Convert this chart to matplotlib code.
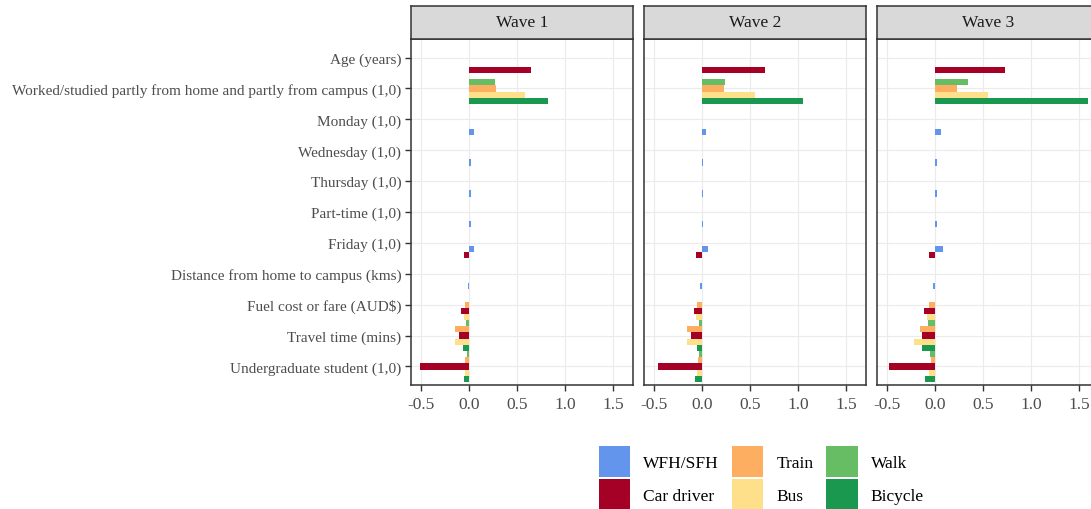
import numpy as np
import matplotlib
matplotlib.use('Agg')
import matplotlib.pyplot as plt
from matplotlib.patches import Patch

plt.rcParams['font.family'] = ['Liberation Serif', 'DejaVu Serif']

nan = np.nan

# Predictors, top to bottom as shown
categories = [
    "Age (years)",
    "Worked/studied partly from home and partly from campus (1,0)",
    "Monday (1,0)",
    "Wednesday (1,0)",
    "Thursday (1,0)",
    "Part-time (1,0)",
    "Friday (1,0)",
    "Distance from home to campus (kms)",
    "Fuel cost or fare (AUD$)",
    "Travel time (mins)",
    "Undergraduate student (1,0)",
]
waves = ["Wave 1", "Wave 2", "Wave 3"]

# Coefficients per mode, one row per wave (nan = not in model)
wfh = [
    [nan, nan, 0.052, 0.021, 0.020, 0.020, 0.059, -0.006, nan, nan, nan],
    [nan, nan, 0.049, 0.017, 0.017, 0.017, 0.062, -0.015, nan, nan, nan],
    [nan, nan, 0.066, 0.028, 0.021, 0.021, 0.083, -0.021, nan, nan, nan],
]
car_driver = [
    [0.649, nan, nan, nan, nan, nan, -0.052, nan, -0.080, -0.100, -0.503],
    [0.663, nan, nan, nan, nan, nan, -0.056, nan, -0.083, -0.111, -0.458],
    [0.736, nan, nan, nan, nan, nan, -0.062, nan, -0.108, -0.135, -0.472],
]
train = [
    [nan, 0.285, nan, nan, nan, nan, nan, nan, -0.042, -0.142, -0.038],
    [nan, 0.233, nan, nan, nan, nan, nan, nan, -0.049, -0.149, -0.035],
    [nan, 0.236, nan, nan, nan, nan, nan, nan, -0.056, -0.156, -0.042],
]
bus = [
    [nan, 0.590, nan, nan, nan, nan, nan, nan, -0.049, -0.142, -0.038],
    [nan, 0.556, nan, nan, nan, nan, nan, nan, -0.056, -0.149, -0.045],
    [nan, 0.559, nan, nan, nan, nan, nan, nan, -0.076, -0.215, -0.062],
]
walk = [
    [nan, 0.274, nan, nan, nan, nan, nan, nan, nan, -0.024, -0.021],
    [nan, 0.247, nan, nan, nan, nan, nan, nan, nan, -0.031, -0.031],
    [nan, 0.351, nan, nan, nan, nan, nan, nan, nan, -0.066, -0.045],
]
bicycle = [
    [nan, 0.823, nan, nan, nan, nan, nan, nan, nan, -0.056, -0.045],
    [nan, 1.052, nan, nan, nan, nan, nan, nan, nan, -0.045, -0.066],
    [nan, 1.600, nan, nan, nan, nan, nan, nan, nan, -0.132, -0.104],
]

# legend order
legend_modes = ["WFH/SFH", "Car driver", "Train", "Bus", "Walk", "Bicycle"]
colors = {
    "WFH/SFH": "#6495ED",
    "Car driver": "#A50026",
    "Train": "#FDAE61",
    "Bus": "#FEE08B",
    "Walk": "#66BD63",
    "Bicycle": "#1A9850",
}
# dodge order (alphabetical, from bottom of each band)
dodge_modes = ["Bicycle", "Bus", "Car driver", "Train", "Walk", "WFH/SFH"]
values = {"WFH/SFH": wfh, "Car driver": car_driver, "Train": train,
          "Bus": bus, "Walk": walk, "Bicycle": bicycle}

n_slots = 5
slot_h = 1.0 / n_slots
n_cat = len(categories)

fig = plt.figure(figsize=(10.91, 5.10), dpi=100)
W, H = 1091, 510

panel_left = [411, 644, 877]
panel_w = 222
panel_top, panel_bottom = 40, 386
strip_top = 7

grey20 = '#333333'
grey30 = '#4D4D4D'

for w in range(3):
    ax = fig.add_axes([panel_left[w] / W, 1 - panel_bottom / H,
                       panel_w / W, (panel_bottom - panel_top) / H])
    for c in range(n_cat):
        ypos = n_cat - c
        present = [m for m in dodge_modes if not np.isnan(values[m][w][c])]
        for k, m in enumerate(present):
            yc = ypos + (k + 0.5) * slot_h - 0.5
            ax.barh(yc, values[m][w][c], height=slot_h, color=colors[m],
                    edgecolor='none', zorder=3)

    ax.set_xlim(-0.60, 1.71)
    ax.set_ylim(0.4, n_cat + 0.6)
    ax.set_xticks([-0.5, 0.0, 0.5, 1.0, 1.5])
    ax.set_xticklabels(['-0.5', '0.0', '0.5', '1.0', '1.5'])
    ax.set_yticks(np.arange(1, n_cat + 1))
    ax.grid(True, color='#EBEBEB', linewidth=0.8, zorder=0)
    ax.set_axisbelow(True)
    for s in ax.spines.values():
        s.set_color(grey20)
        s.set_linewidth(1.1)
    ax.tick_params(axis='x', colors=grey20, labelcolor=grey30, labelsize=12.5,
                   length=4, width=1.0, pad=4)
    if w == 0:
        ax.set_yticklabels(categories[::-1])
        ax.tick_params(axis='y', colors=grey20, labelcolor=grey30, labelsize=11,
                       length=4, width=1.0, pad=3)
    else:
        ax.tick_params(axis='y', length=0, labelleft=False)

    sax = fig.add_axes([panel_left[w] / W, 1 - panel_top / H,
                        panel_w / W, (panel_top - strip_top) / H])
    sax.set_facecolor('#D9D9D9')
    sax.set_xticks([])
    sax.set_yticks([])
    for s in sax.spines.values():
        s.set_color(grey20)
        s.set_linewidth(1.1)
    sax.text(0.5, 0.5, waves[w], ha='center', va='center', fontsize=12.5,
             color='#1A1A1A', transform=sax.transAxes)

handles = [Patch(facecolor=colors[m], edgecolor='none', label=m) for m in legend_modes]
fig.legend(handles=handles, ncol=3, loc='upper left',
           bbox_to_anchor=(599 / W, 1 - 447 / H), frameon=False, fontsize=12.5,
           handlelength=1.8, handleheight=2.37, handletextpad=0.75,
           columnspacing=0.75, labelspacing=0.12, borderpad=0, borderaxespad=0)

fig.savefig('out.png', dpi=100)
